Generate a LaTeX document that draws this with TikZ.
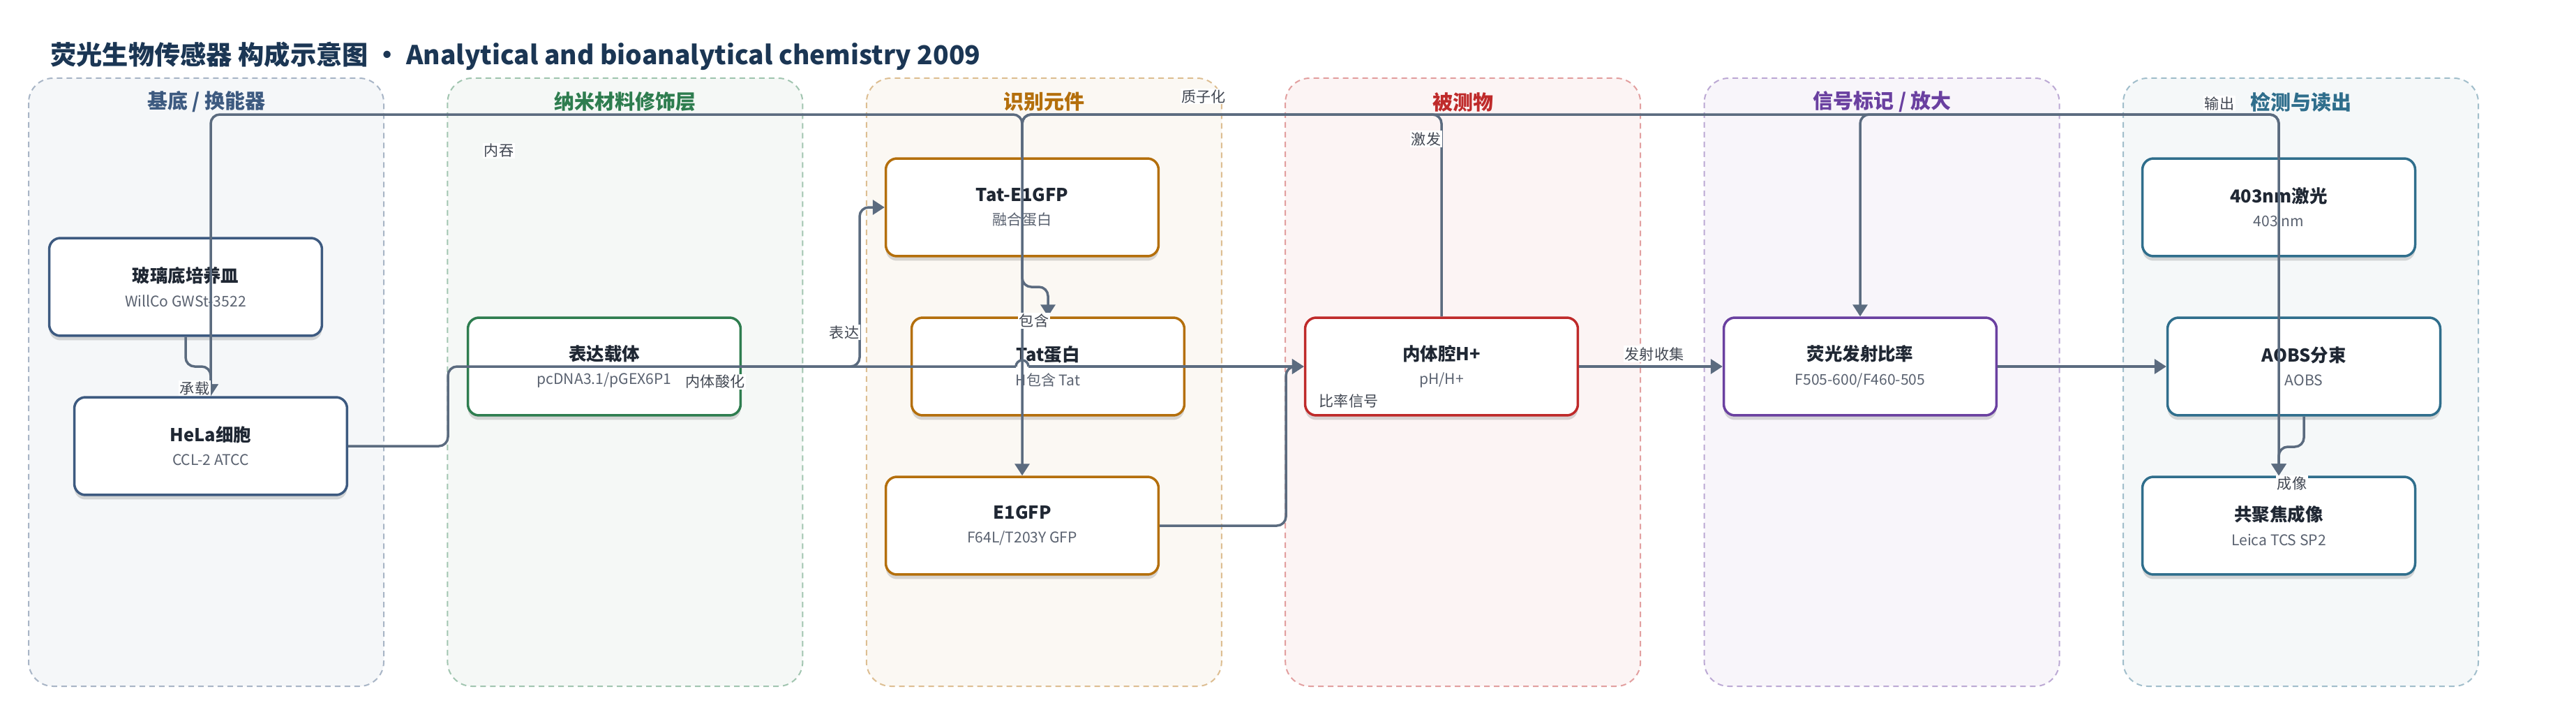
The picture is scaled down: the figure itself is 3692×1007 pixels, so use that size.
\documentclass[tikz,border=0pt]{standalone}
\usepackage{fontspec}
\setmainfont{Noto Sans CJK SC}
\usetikzlibrary{arrows.meta,shadows,calc}

\definecolor{edgegray}{HTML}{5B6B7F}
\definecolor{titleblue}{HTML}{1B3654}
\definecolor{txtdark}{HTML}{1F2733}
\definecolor{subgray}{HTML}{5A6270}
\definecolor{laneA}{HTML}{3D5A80}
\definecolor{laneB}{HTML}{2E7D4F}
\definecolor{laneC}{HTML}{B46F0C}
\definecolor{laneD}{HTML}{BF2A2A}
\definecolor{laneE}{HTML}{6A40A0}
\definecolor{laneF}{HTML}{2F6E8C}

\tikzset{
  lanebox/.style={draw=#1!45!white, fill=#1!5!white, line width=0.04cm,
    dash pattern=on 0.16cm off 0.12cm, rounded corners=0.7cm},
  lanehead/.style={font=\fontsize{16.5}{20}\selectfont\bfseries, text=#1},
  part/.style={draw=#1, line width=0.07cm, fill=white, rounded corners=0.32cm,
    minimum width=7.82cm, minimum height=2.8cm, align=center, text=txtdark,
    font=\fontsize{14.5}{19.5}\selectfont,
    drop shadow={shadow xshift=0cm, shadow yshift=-0.13cm, opacity=0.14, fill=black}},
  flow/.style={draw=edgegray, line width=0.07cm, rounded corners=0.26cm,
    -{Triangle[length=0.34cm,width=0.42cm]}},
  flowlabel/.style={fill=white, inner sep=1pt, text=txtdark!85!white,
    font=\fontsize{12}{14}\selectfont},
}
\newcommand{\boxtext}[2]{\textbf{#1}\\{\fontsize{12}{19.5}\selectfont\color{subgray}#2}}

\begin{document}
\begin{tikzpicture}[x=0.02cm,y=-0.02cm]
  \useasboundingbox (0,0) rectangle (3692,1007);

  % title
  \node[anchor=west, inner sep=0, text=titleblue,
    font=\fontsize{21.2}{25}\selectfont\bfseries] (title) at (72,80)
    {荧光生物传感器 构成示意图 · Analytical and bioanalytical chemistry 2009};

  % lanes
  \foreach \i/\hd/\col in {0/{基底 / 换能器}/laneA, 1/{纳米材料修饰层}/laneB,
      2/{识别元件}/laneC, 3/{被测物}/laneD, 4/{信号标记 / 放大}/laneE,
      5/{检测与读出}/laneF}{
    \draw[lanebox=\col] ({41+600.4*\i},112) rectangle ++(509,871);
    \node[lanehead=\col] (head\i) at ({296+600.4*\i},146) {\hd};
  }

  % parts
  \node[part=laneA] (dish) at (266,411) {\boxtext{玻璃底培养皿}{WillCo GWSt-3522}};
  \node[part=laneA] (hela) at (302,639) {\boxtext{HeLa细胞}{CCL-2 ATCC}};
  \node[part=laneB] (vector) at (866,525) {\boxtext{表达载体}{pcDNA3.1/pGEX6P1}};
  \node[part=laneC] (tatgfp) at (1465,297) {\boxtext{Tat-E1GFP}{融合蛋白}};
  \node[part=laneC] (tatprot) at (1502,525) {\boxtext{Tat蛋白}{H包含 Tat}};
  \node[part=laneC] (e1gfp) at (1465,753) {\boxtext{E1GFP}{F64L/T203Y GFP}};
  \node[part=laneD] (endo) at (2066,525) {\boxtext{内体腔H+}{pH/H+}};
  \node[part=laneE] (ratio) at (2666,525) {\boxtext{荧光发射比率}{F505-600/F460-505}};
  \node[part=laneF] (laser) at (3266,297) {\boxtext{403nm激光}{403 nm}};
  \node[part=laneF] (aobs) at (3302,525) {\boxtext{AOBS分束}{AOBS}};
  \node[part=laneF] (confocal) at (3266,753) {\boxtext{共聚焦成像}{Leica TCS SP2}};

  % routing lines
  \coordinate (chan) at (0,164);
  \coordinate (ycarry) at (0,525);
  \coordinate (xacid) at (642,0);
  \coordinate (xexpr) at (1232,0);
  \coordinate (ycont) at (0,411);
  \coordinate (xsig) at (1843,0);
  \coordinate (yimg) at (0,640);
  \coordinate (hopL) at ($(e1gfp.north |- endo.west)+(-9,0)$);
  \coordinate (hopR) at ($(e1gfp.north |- endo.west)+(9,0)$);

  % connectors
  \draw[flow] (dish.south) -- (dish.south |- ycarry) -| (hela.north);
  \draw[flow,-] (hela.east) -| (xacid |- endo.west) -- (hopL);
  \draw[flow,-,sharp corners] (hopL) arc[start angle=180, end angle=360, radius=9];
  \draw[flow] (hopR) -- (endo.west);
  \draw[flow] (vector.east) -- (vector.east -| xexpr) |- (tatgfp.west);
  \draw[flow] (tatgfp.south) -- (tatgfp.south |- ycont) -| (tatprot.north);
  \draw[flow] (e1gfp.east) -- (e1gfp.east -| xsig) |- (endo.west);
  \draw[flow] (endo.east) -- (ratio.west);
  \draw[flow] (ratio.east) -- (aobs.west);
  \draw[flow] (aobs.south) -- (aobs.south |- yimg) -| (confocal.north);
  \draw[flow] (tatgfp.north) -- (tatgfp.north |- chan) -| (hela.north);
  \draw[flow] (endo.north) -- (endo.north |- chan) -| (e1gfp.north);
  \draw[flow] (laser.north) -- (laser.north |- chan) -| (ratio.north);
  \draw[flow] (tatgfp.north) -- (tatgfp.north |- chan) -| (confocal.north);

  % connector labels
  \node[flowlabel] (l-carry) at (279,556) {承载};
  \node[flowlabel] (l-uptake) at (715,216) {内吞};
  \node[flowlabel] (l-expr) at (1210,476) {表达};
  \node[flowlabel] (l-acid) at (1025,547) {内体酸化};
  \node[flowlabel] (l-cont) at (1482,459) {包含};
  \node[flowlabel] (l-proton) at (1725,138) {质子化};
  \node[flowlabel] (l-excite) at (2044,199) {激发};
  \node[flowlabel] (l-sig) at (1933,574) {比率信号};
  \node[flowlabel] (l-emit) at (2371,507) {发射收集};
  \node[flowlabel] (l-out) at (3181,148) {输出};
  \node[flowlabel] (l-img) at (3285,693) {成像};
\end{tikzpicture}
\end{document}
